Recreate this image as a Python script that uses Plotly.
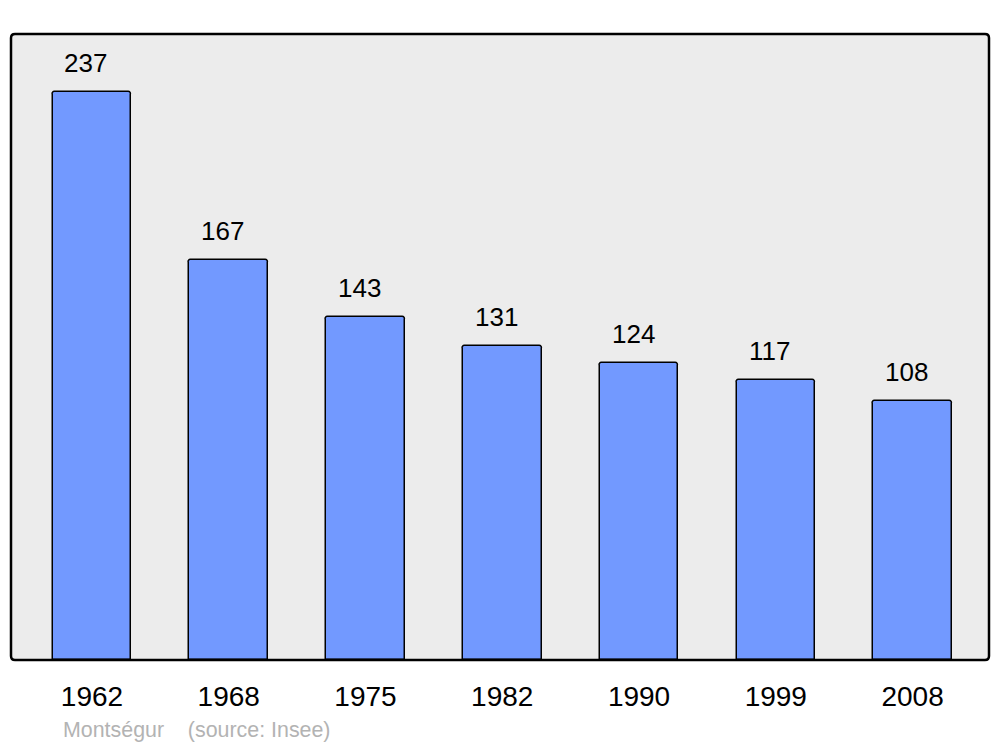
import plotly.graph_objects as go

years = ["1962", "1968", "1975", "1982", "1990", "1999", "2008"]
population = [237, 167, 143, 131, 124, 117, 108]
footer_text = "Montségur    (source: Insee)"

W, H = 1000, 747
L, R, T, B = 11, 11, 34, 87
FONT = "Liberation Sans, Arial, sans-serif"

xs = list(range(len(years)))

fig = go.Figure()
fig.add_trace(go.Bar(
    x=xs, y=population, width=0.574,
    marker=dict(color="#7299ff", line=dict(color="#000000", width=1.5), cornerradius=3),
    hoverinfo="skip",
))

for xi, v in zip(xs, population):
    fig.add_annotation(x=xi, y=v, text=str(v), showarrow=False, yanchor="bottom",
                       xanchor="center", xshift=-6, yshift=12,
                       font=dict(family=FONT, size=26, color="#000000"))

fig.add_annotation(xref="paper", yref="paper", x=(61 - L) / (W - L - R), y=-(730 - (H - B)) / (H - T - B),
                   text=footer_text, showarrow=False, xanchor="left", yanchor="middle",
                   font=dict(family=FONT, size=21.4, color="#b3b3b3"))

# rounded border of plot area
pw, ph = W - L - R, H - T - B
rx, ry = 4 / pw, 4 / ph
path = (f"M {rx},0 L {1-rx},0 Q 1,0 1,{ry} L 1,{1-ry} Q 1,1 {1-rx},1 "
        f"L {rx},1 Q 0,1 0,{1-ry} L 0,{ry} Q 0,0 {rx},0 Z")
fig.add_shape(type="path", xref="paper", yref="paper", path=path,
              line=dict(color="#000000", width=2.5), layer="above")

fig.update_layout(
    width=W, height=H,
    margin=dict(l=L, r=R, t=T, b=B, pad=0),
    paper_bgcolor="#ffffff", plot_bgcolor="#ececec",
    showlegend=False,
    bargap=0,
    xaxis=dict(range=[-0.592, 6.559], tickmode="array", tickvals=xs, ticktext=years,
               showgrid=False, zeroline=False, showline=False,
               ticks="outside", ticklen=11, tickcolor="rgba(0,0,0,0)",
               tickfont=dict(family=FONT, size=28, color="#000000")),
    yaxis=dict(range=[0, 261.2], showgrid=False, zeroline=False, showticklabels=False, showline=False),
)

fig.write_html("out.html", config={"displayModeBar": False},
               post_script="document.body.style.margin='0';document.body.style.padding='0';")
